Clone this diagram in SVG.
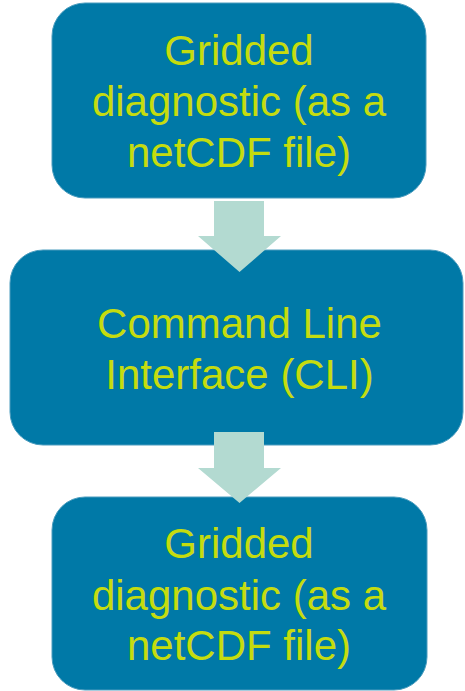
<svg xmlns="http://www.w3.org/2000/svg" width="465" height="691" viewBox="0 0 465 691">
<style>
.box{fill:#0079A7;stroke:#4A9CBE;stroke-width:1}
.lbl{font-family:"Liberation Sans",Arial,sans-serif;font-size:42px;fill:#C5DC0F;text-anchor:middle}
.arr{fill:#B3DAD1}
</style>
<rect width="465" height="691" fill="#FFFFFF"/>
<g id="node1">
<rect class="box" x="52" y="3" width="374" height="195" rx="33"/>
<text class="lbl" x="239" y="65">Gridded</text>
<text class="lbl" x="239" y="116">diagnostic (as a</text>
<text class="lbl" x="239" y="167">netCDF file)</text>
</g>
<g id="node2">
<rect class="box" x="10" y="250" width="453" height="195" rx="33"/>
<text class="lbl" x="239.5" y="338">Command Line</text>
<text class="lbl" x="239.5" y="389">Interface (CLI)</text>
</g>
<g id="node3">
<rect class="box" x="52" y="497" width="375" height="193" rx="33"/>
<text class="lbl" x="239" y="558">Gridded</text>
<text class="lbl" x="239" y="610">diagnostic (as a</text>
<text class="lbl" x="239" y="660">netCDF file)</text>
</g>
<g id="connectors">
<polygon class="arr" points="214,201 264,201 264,236 281,236 239.5,272 198,236 214,236"/>
<polygon class="arr" points="214,432 264,432 264,468 281,468 239.5,503 198,468 214,468"/>
</g>
</svg>
